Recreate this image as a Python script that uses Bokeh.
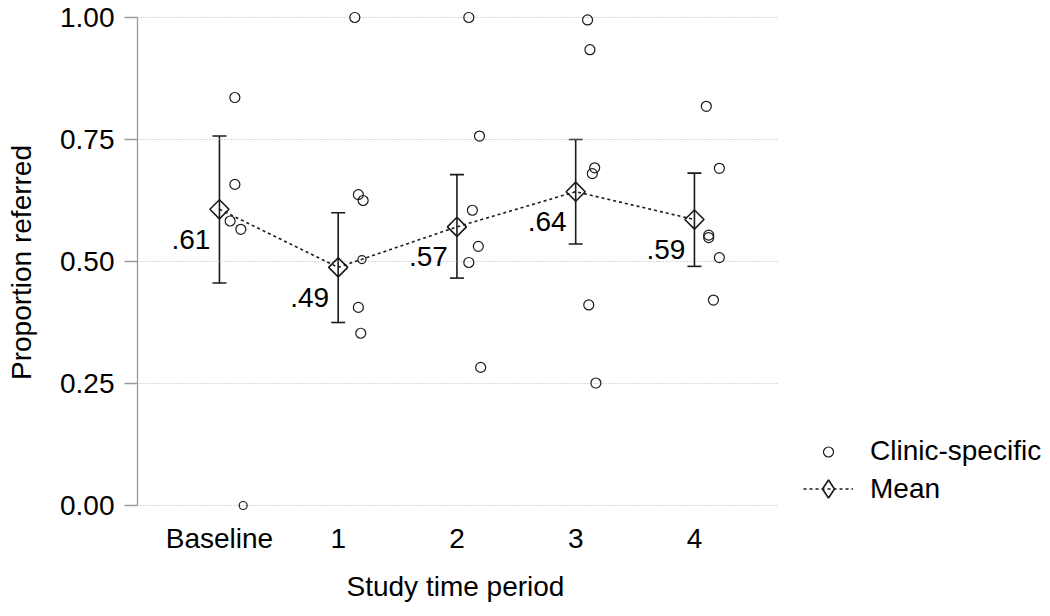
from bokeh.plotting import figure
from bokeh.models import (ColumnDataSource, FixedTicker, Whisker, TeeHead, Legend, LegendItem,
                          Range1d, Title)
from bokeh.core.properties import value
from bokeh.embed import file_html
from bokeh.resources import INLINE
import numpy as np
import math

# ---- data ----
period_labels = ["Baseline", "1", "2", "3", "4"]
period_x = [0, 1, 2, 3, 4]
mean_vals = [0.607, 0.488, 0.571, 0.643, 0.586]
ci_lower = [0.456, 0.375, 0.466, 0.536, 0.490]
ci_upper = [0.757, 0.600, 0.678, 0.750, 0.681]

# clinic-specific proportions (x = period index + small jitter as drawn)
clinic_x = [0.13, 0.13, 0.09, 0.18, 0.20,
            1.14, 1.17, 1.21, 1.20, 1.17, 1.19,
            2.10, 2.19, 2.13, 2.18, 2.10, 2.20,
            3.10, 3.12, 3.16, 3.14, 3.11, 3.17,
            4.10, 4.21, 4.12, 4.12, 4.21, 4.16]
clinic_y = [0.836, 0.658, 0.583, 0.566, 0.000,
            1.000, 0.637, 0.625, 0.504, 0.406, 0.353,
            1.000, 0.757, 0.605, 0.531, 0.498, 0.283,
            0.995, 0.934, 0.692, 0.680, 0.411, 0.251,
            0.818, 0.691, 0.554, 0.549, 0.508, 0.421]

y_ticks = [0.0, 0.25, 0.5, 0.75, 1.0]
y_tick_labels = ["0.00", "0.25", "0.50", "0.75", "1.00"]

# style-only: marker diameters (two points drawn smaller in the original)
point_size = [10] * len(clinic_y)
point_size[4] = 8
point_size[8] = 8

FONT = "Liberation Sans"
FS = "28px"
INK = "#1a1a1a"

W, H = 1044, 614
LEFT = 137
X_LO, X_PLOT_HI = -0.69, 4.707
PX_PER_X = 118.75

p = figure(width=W, height=H, output_backend="svg", toolbar_location=None,
           x_range=Range1d(X_LO, X_LO + (W - LEFT) / PX_PER_X), y_range=Range1d(-0.0184, 1.0143),
           min_border_left=LEFT, min_border_right=0, min_border_top=10, min_border_bottom=99)
p.outline_line_color = None
p.background_fill_color = "white"
p.border_fill_color = "white"
p.xgrid.grid_line_color = None
p.ygrid.grid_line_color = None

# dotted horizontal grid lines across the plot region only
p.segment(x0=[X_LO] * len(y_ticks), x1=[X_PLOT_HI] * len(y_ticks), y0=y_ticks, y1=y_ticks,
          line_color="#b4b4b4", line_dash="1 2", line_width=1)

# y axis
ya = p.yaxis[0]
ya.ticker = FixedTicker(ticks=y_ticks)
ya.major_label_overrides = {t: l for t, l in zip(y_ticks, y_tick_labels)}
ya.bounds = (0, 1)
ya.axis_line_color = "#9a9a9a"
ya.axis_line_width = 1.3
ya.major_tick_line_color = "#9a9a9a"
ya.major_tick_line_width = 1.3
ya.major_tick_out = 13
ya.major_tick_in = 0
ya.minor_tick_line_color = None
ya.major_label_standoff = 10
ya.major_label_text_font = FONT
ya.major_label_text_font_size = FS
ya.major_label_text_color = "black"
ya.axis_label = "Proportion referred"
ya.axis_label_text_font = FONT
ya.axis_label_text_font_size = FS
ya.axis_label_text_font_style = "normal"
ya.axis_label_text_color = "black"
ya.axis_label_standoff = 20

# x axis
xa = p.xaxis[0]
xa.ticker = FixedTicker(ticks=period_x)
xa.major_label_overrides = {x: l for x, l in zip(period_x, period_labels)}
xa.axis_line_color = None
xa.major_tick_line_color = None
xa.minor_tick_line_color = None
xa.major_tick_out = 0
xa.major_tick_in = 0
xa.major_label_standoff = 8
xa.major_label_text_font = FONT
xa.major_label_text_font_size = FS
xa.major_label_text_color = "black"
xa.axis_label = None

# x-axis title, placed under the plotting region (frame extends right for the legend)
p.add_layout(Title(text="Study time period", align="left", offset=209, standoff=25,
                   text_font=FONT, text_font_size=FS, text_font_style="normal",
                   text_color="black"), "below")

# sources
msrc = ColumnDataSource(dict(x=period_x, mean=mean_vals, lower=ci_lower, upper=ci_upper,
                             lab=[("%.2f" % m).lstrip("0") for m in mean_vals]))
csrc = ColumnDataSource(dict(x=clinic_x, y=clinic_y, s=point_size))

# error bars
wh = Whisker(base="x", upper="upper", lower="lower", source=msrc,
             line_color=INK, line_width=1.6,
             upper_head=TeeHead(size=14, line_color=INK, line_width=1.6),
             lower_head=TeeHead(size=14, line_color=INK, line_width=1.6))
p.add_layout(wh)

# clinic points
r_pts = p.scatter("x", "y", source=csrc, marker="circle", size="s",
                  fill_color=None, line_color=INK, line_width=1.2)

# mean line and diamonds
r_line = p.line("x", "mean", source=msrc, line_color=INK, line_width=1.6, line_dash="3 3")
r_dia = p.scatter("x", "mean", source=msrc, marker="square", angle=math.pi / 4, size=13.5,
                  fill_color=None, line_color=INK, line_width=1.6)
# legend proxy for the diamond symbol (legend glyphs are drawn unrotated; NaN = not drawn in plot)
r_dia_leg = p.scatter(x=np.array([np.nan]), y=np.array([np.nan]), marker="diamond", size=13,
                      fill_color=None, line_color=INK, line_width=1.6)

# mean labels
p.text("x", "mean", text="lab", source=msrc, text_align="right", text_baseline="middle",
       x_offset=-9, y_offset=30, text_font=value(FONT), text_font_size=FS, text_color="black")

leg_common = dict(orientation="vertical", padding=0, margin=0, spacing=0,
                  glyph_width=50, label_standoff=17,
                  label_text_font=FONT, label_text_font_size=FS, label_text_color="black",
                  border_line_color=None, background_fill_alpha=0)
legend1 = Legend(items=[LegendItem(label="Clinic-specific", renderers=[r_pts])],
                 location=(666, 47), glyph_height=25, label_height=25, **leg_common)
legend2 = Legend(items=[LegendItem(label="Mean", renderers=[r_line, r_dia_leg])],
                 location=(666, 3), glyph_height=45, label_height=45, **leg_common)
p.add_layout(legend1)
p.add_layout(legend2)

open("out.html", "w").write(file_html(p, INLINE))
